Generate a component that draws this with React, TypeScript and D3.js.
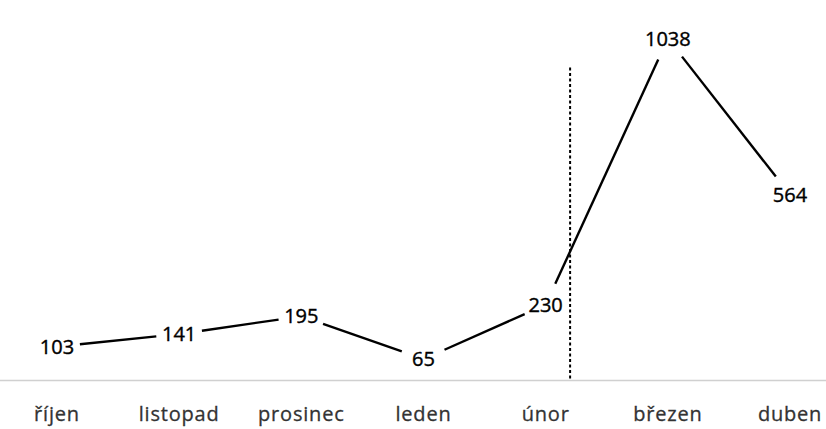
import React from "react";
import * as d3 from "d3";

const categories = ["říjen", "listopad", "prosinec", "leden", "únor", "březen", "duben"];
const values = [103, 141, 195, 65, 230, 1038, 564];
// dashed marker: position in category index units and its top value
const markerIndex = 4.2;
const markerTopValue = 950;

const W = 826;
const H = 429;

export default function App() {
  const x = d3.scalePoint<string>().domain(categories).range([57, 790]);
  const y = d3.scaleLinear().domain([0, 1038]).range([380.5, 38.5]);
  const step = x.step();
  const axisY = y(0);
  const gap = 23;

  const pts = values.map((v, i) => ({ x: x(categories[i]) as number, y: y(v), v }));
  const segs = pts.slice(1).map((p, i) => {
    const a = pts[i];
    const dx = p.x - a.x;
    const dy = p.y - a.y;
    const len = Math.sqrt(dx * dx + dy * dy);
    const ux = dx / len;
    const uy = dy / len;
    return [
      [a.x + ux * gap, a.y + uy * gap],
      [p.x - ux * gap, p.y - uy * gap],
    ] as [number, number][];
  });
  const line = d3.line();
  const markerX = (x(categories[0]) as number) + markerIndex * step;

  return (
    <svg width={W} height={H} style={{ position: "absolute", left: 0, top: 0, background: "#fff" }}>
      <line x1={0} x2={W} y1={axisY} y2={axisY} stroke="#d0d0d0" strokeWidth={1.5} />
      <line
        x1={markerX}
        x2={markerX}
        y1={y(markerTopValue)}
        y2={axisY}
        stroke="#000"
        strokeWidth={2}
        strokeDasharray="3,2.5"
      />
      {segs.map((s, i) => (
        <path key={i} d={line(s) || ""} stroke="#000" strokeWidth={2.4} fill="none" />
      ))}
      {pts.map((p, i) => (
        <text
          key={i}
          x={p.x}
          y={p.y}
          dy="0.36em"
          textAnchor="middle"
          fontFamily="'Open Sans', sans-serif"
          fontSize={20}
          fill="#000"
          stroke="#000"
          strokeWidth={0.4}
        >
          {p.v}
        </text>
      ))}
      {categories.map((c) => (
        <text
          key={c}
          x={x(c) as number}
          y={414}
          dy="0.36em"
          textAnchor="middle"
          fontFamily="'Open Sans', sans-serif"
          fontSize={20}
          letterSpacing={0.8}
          fill="#333"
          stroke="#333"
          strokeWidth={0.3}
        >
          {c}
        </text>
      ))}
    </svg>
  );
}
